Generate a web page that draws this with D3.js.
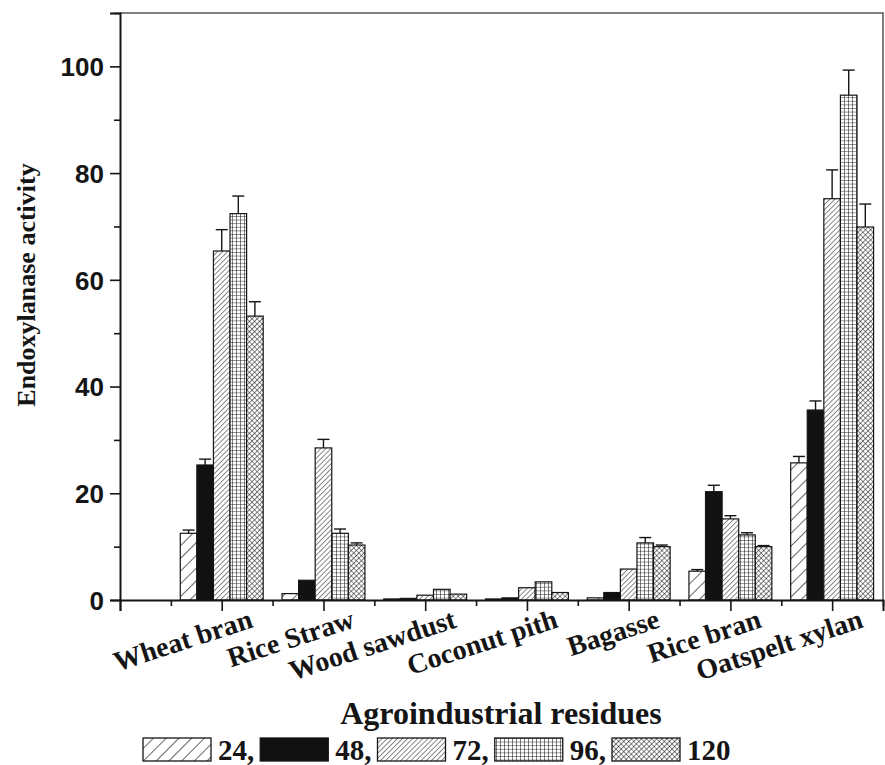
<!DOCTYPE html>
<html>
<head>
<meta charset="utf-8">
<script src="https://cdn.jsdelivr.net/npm/d3@7"></script>
<style>
  html, body { margin: 0; padding: 0; background: #fff; }
  svg { display: block; }
</style>
</head>
<body>
<svg id="chart" width="885" height="765"></svg>
<script>
// Endoxylanase activity on agroindustrial residues, sampled at 24-120 h
const categories = ["Wheat bran", "Rice Straw", "Wood sawdust", "Coconut pith", "Bagasse", "Rice bran", "Oatspelt xylan"];
const hours = ["24", "48", "72", "96", "120"];

const act24  = [12.5, 1.2, 0.2, 0.2, 0.4, 5.4, 25.7];
const act48  = [25.3, 3.7, 0.3, 0.4, 1.4, 20.3, 35.6];
const act72  = [65.4, 28.5, 0.9, 2.3, 5.8, 15.2, 75.2];
const act96  = [72.4, 12.5, 2.0, 3.4, 10.7, 12.2, 94.6];
const act120 = [53.2, 10.3, 1.1, 1.4, 10.0, 10.0, 69.9];

const err24  = [0.6, 0, 0, 0, 0, 0.3, 1.2];
const err48  = [1.1, 0, 0, 0, 0, 1.2, 1.7];
const err72  = [4.0, 1.6, 0, 0, 0, 0.6, 5.4];
const err96  = [3.3, 0.8, 0, 0, 1.0, 0.4, 4.7];
const err120 = [2.7, 0.4, 0, 0, 0.3, 0.2, 4.3];

const yMajorTicks = [0, 20, 40, 60, 80, 100];
const yMinorTicks = [10, 30, 50, 70, 90, 110];
const xMajorTicks = [0, 1, 2, 3, 4, 5, 6, 7];
const xMinorTicks = [0.5, 1.5, 2.5, 3.5, 4.5, 5.5, 6.5, 7.5];

const seriesValues = [act24, act48, act72, act96, act120];
const seriesErrors = [err24, err48, err72, err96, err120];
const fills = ["url(#hatchWide)", "#111", "url(#hatchDense)", "url(#grid)", "url(#cross)"];

const serif = "'Liberation Serif', 'Times New Roman', serif";
const sans = "'Liberation Sans', Arial, sans-serif";
const ink = "#151515";

const svg = d3.select("#chart");
const x = d3.scaleLinear().domain([0, 7.5]).range([120, 883]);
const y = d3.scaleLinear().domain([0, 110]).range([600, 13]);

// ---- fill patterns ----
const defs = svg.append("defs");
function linePattern(id, spacing, width, angle) {
  const p = defs.append("pattern").attr("id", id)
    .attr("patternUnits", "userSpaceOnUse")
    .attr("width", spacing).attr("height", spacing)
    .attr("patternTransform", `rotate(${angle})`);
  p.append("rect").attr("width", spacing).attr("height", spacing).attr("fill", "#fff");
  p.append("line").attr("x1", 0).attr("y1", 0).attr("x2", 0).attr("y2", spacing)
    .attr("stroke", ink).attr("stroke-width", width);
  return p;
}
linePattern("hatchWide", 9, 1.3, 45);
linePattern("hatchDense", 3.6, 1.0, 45);

const grid = defs.append("pattern").attr("id", "grid")
  .attr("patternUnits", "userSpaceOnUse").attr("width", 4).attr("height", 3.6);
grid.append("rect").attr("width", 4).attr("height", 3.6).attr("fill", "#fff");
grid.append("path").attr("d", "M0,0H4M0,0V3.6").attr("stroke", ink).attr("stroke-width", 1.1).attr("fill", "none");

const cross = defs.append("pattern").attr("id", "cross")
  .attr("patternUnits", "userSpaceOnUse").attr("width", 3.6).attr("height", 3.6)
  .attr("patternTransform", "rotate(45)");
cross.append("rect").attr("width", 3.6).attr("height", 3.6).attr("fill", "#fff");
cross.append("path").attr("d", "M0,0H3.6M0,0V3.6").attr("stroke", ink).attr("stroke-width", 1.1).attr("fill", "none");

// ---- frame ----
svg.append("path")
  .attr("d", `M${x(0)},${y(110)}H${x(7.5)}V${y(0)}`)
  .attr("fill", "none").attr("stroke", "#555").attr("stroke-width", 1.5);

// ---- bars ----
const groupWidth = 0.815;
const barW = x(groupWidth / 5) - x(0);
const bars = svg.append("g");
seriesValues.forEach((vals, s) => {
  const g = bars.append("g");
  const barX = i => x(i + 1) + (s - 2.5) * barW;
  g.selectAll("rect").data(vals).join("rect")
    .attr("x", (d, i) => barX(i))
    .attr("y", d => y(d))
    .attr("width", barW)
    .attr("height", d => y(0) - y(d))
    .attr("fill", fills[s])
    .attr("stroke", ink).attr("stroke-width", 1.2);

  const errs = seriesErrors[s];
  const eb = g.selectAll("g.err").data(vals.map((v, i) => ({ v, e: errs[i], i })).filter(d => d.e > 0))
    .join("g").attr("class", "err")
    .attr("stroke", ink).attr("stroke-width", 1.4);
  eb.append("line")
    .attr("x1", d => barX(d.i) + barW / 2).attr("x2", d => barX(d.i) + barW / 2)
    .attr("y1", d => y(d.v)).attr("y2", d => y(d.v + d.e));
  eb.append("line")
    .attr("x1", d => barX(d.i) + barW / 2 - 6).attr("x2", d => barX(d.i) + barW / 2 + 6)
    .attr("y1", d => y(d.v + d.e)).attr("y2", d => y(d.v + d.e));
});

// ---- axes ----
const yAxis = svg.append("g").attr("transform", `translate(${x(0)},0)`)
  .call(d3.axisLeft(y).tickValues(yMajorTicks).tickSize(10).tickPadding(6).tickFormat(d3.format("d")));
svg.append("g").attr("transform", `translate(${x(0)},0)`)
  .call(d3.axisLeft(y).tickValues(yMinorTicks).tickSize(6).tickFormat(""))
  .call(g => g.select(".domain").remove());
yAxis.selectAll("text").attr("font-family", sans).attr("font-weight", "bold")
  .attr("font-size", 26).attr("fill", ink).attr("dy", "0.36em");

const xAxis = svg.append("g").attr("transform", `translate(0,${y(0)})`)
  .call(d3.axisBottom(x).tickValues(xMajorTicks).tickSize(11).tickFormat(d => categories[d - 1] || ""));
svg.append("g").attr("transform", `translate(0,${y(0)})`)
  .call(d3.axisBottom(x).tickValues(xMinorTicks).tickSize(6).tickFormat(""))
  .call(g => g.select(".domain").remove());
xAxis.selectAll("text")
  .attr("font-family", serif).attr("font-weight", "bold").attr("font-size", 28).attr("fill", ink)
  .attr("text-anchor", "end").attr("x", 0).attr("y", 0).attr("dy", 0)
  .attr("transform", "translate(32,27) rotate(-18)");

svg.selectAll(".domain").attr("stroke", ink).attr("stroke-width", 2);
svg.selectAll(".tick line").attr("stroke", ink).attr("stroke-width", 1.6);

// ---- axis titles ----
svg.append("text")
  .attr("transform", "translate(35,285) rotate(-90)")
  .attr("text-anchor", "middle")
  .attr("font-family", serif).attr("font-weight", "bold").attr("font-size", 26).attr("fill", ink)
  .text("Endoxylanase activity");

svg.append("text")
  .attr("x", 501).attr("y", 724)
  .attr("text-anchor", "middle")
  .attr("font-family", serif).attr("font-weight", "bold").attr("font-size", 32).attr("fill", ink)
  .text("Agroindustrial residues");

// ---- legend ----
const legend = svg.append("g");
let lx = 143;
hours.forEach((h, s) => {
  legend.append("rect")
    .attr("x", lx).attr("y", 738).attr("width", 68).attr("height", 23)
    .attr("fill", fills[s]).attr("stroke", ink).attr("stroke-width", 1.3);
  const t = legend.append("text")
    .attr("x", lx + 75).attr("y", 760)
    .attr("font-family", serif).attr("font-weight", "bold").attr("font-size", 29).attr("fill", ink)
    .text(s < hours.length - 1 ? h + "," : h);
  lx += 75 + t.node().getComputedTextLength() + 6;
});
</script>
</body>
</html>
